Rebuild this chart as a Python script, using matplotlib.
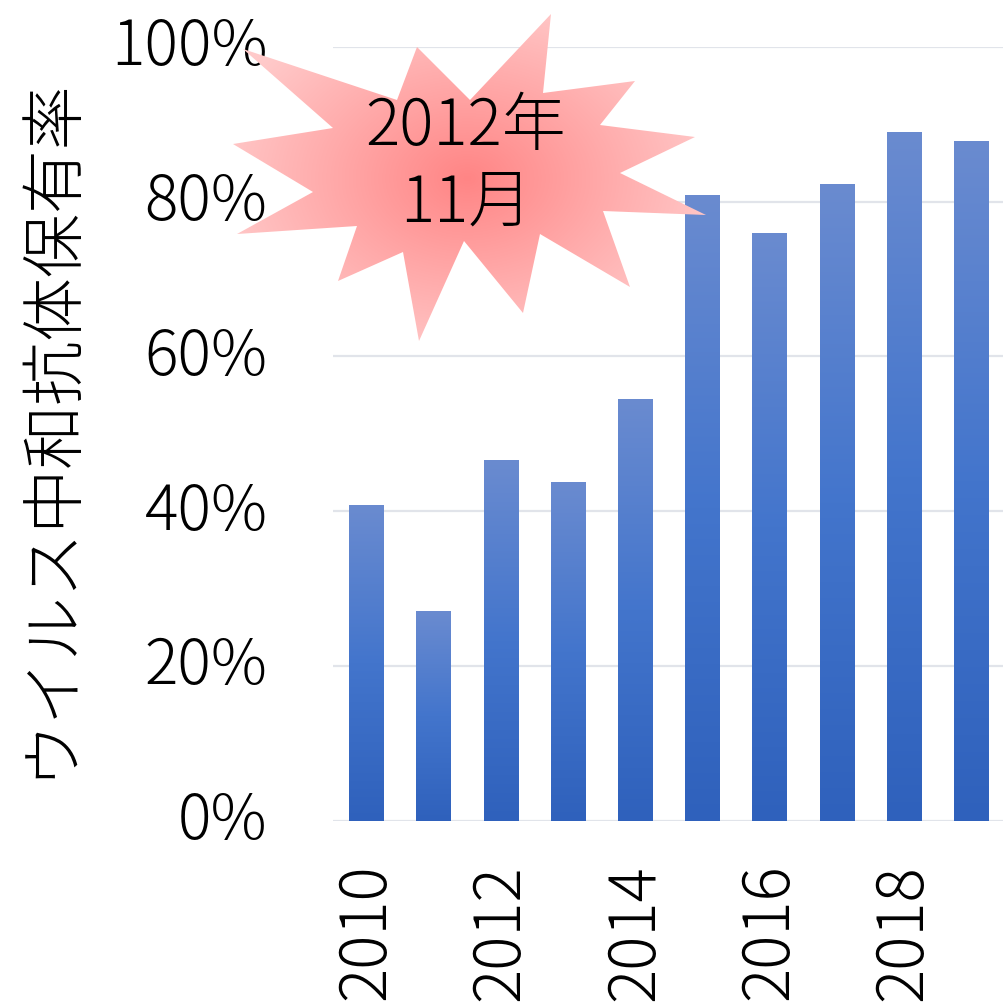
import matplotlib
matplotlib.use("Agg")
import matplotlib.pyplot as plt
import matplotlib.transforms as mtransforms
import numpy as np
from matplotlib.colors import LinearSegmentedColormap
from matplotlib.patches import Polygon

plt.rcParams["font.family"] = ["Noto Sans CJK JP", "DejaVu Sans"]
plt.rcParams["font.weight"] = "light"

years = [2010, 2011, 2012, 2013, 2014, 2015, 2016, 2017, 2018, 2019]
rates = [0.407, 0.271, 0.466, 0.437, 0.544, 0.808, 0.759, 0.822, 0.889, 0.878]
tick_years = [2010, 2012, 2014, 2016, 2018]
y_ticks = [0, 0.2, 0.4, 0.6, 0.8, 1.0]
y_label = "ウイルス中和抗体保有率"
burst_text = "2012年\n11月"

# explosion shape, in figure pixels (x right, y down)
burst_px = [
    (551, 14), (543, 93), (635, 81), (600, 125), (695, 137), (620, 173),
    (706, 215), (603, 211), (630, 287), (540, 234), (523, 313), (464, 241),
    (419, 341), (403, 252), (338, 281), (357, 226), (237, 234), (313, 192),
    (233, 144), (333, 128), (243, 49), (397, 100), (417, 47), (470, 100),
]

W, H = 1004, 1007
fig = plt.figure(figsize=(W / 100, H / 100), dpi=100)
ax = fig.add_axes([333 / W, (H - 820.7) / H, 672 / W, 774 / H])

bar_cmap = LinearSegmentedColormap.from_list("bar", ["#6a8bd0", "#4375cc", "#2f61bc"])
grad = np.linspace(0, 1, 256).reshape(-1, 1)
width = 0.52
xs = np.arange(len(years))
for x, v in zip(xs, rates):
    ax.imshow(grad, cmap=bar_cmap, aspect="auto", origin="upper",
              extent=[x - width / 2, x + width / 2, 0, v], zorder=2,
              interpolation="bicubic")

ax.set_xlim(-0.5, len(years) - 0.5)
ax.set_ylim(0, 1.0)
ax.set_yticks(y_ticks)
ax.set_yticklabels([f"{int(round(t * 100))}%" for t in y_ticks], fontsize=45)
ax.set_xticks([years.index(y) for y in tick_years])
ax.set_xticklabels([str(y) for y in tick_years], rotation=90, fontsize=46)
ax.tick_params(axis="both", length=0)
ax.tick_params(axis="y", pad=47)
ax.tick_params(axis="x", pad=31)
# tick labels sit a little above their gridlines
shift = mtransforms.ScaledTranslation(0, 6 / 100, fig.dpi_scale_trans)
for lbl in ax.get_yticklabels():
    lbl.set_transform(lbl.get_transform() + shift)
ax.grid(axis="y", color="#e1e4ea", linewidth=1.6, zorder=0)
ax.set_axisbelow(True)
for s in ax.spines.values():
    s.set_visible(False)
fig.text(50 / W, 1 - 427 / H, y_label, rotation=90, ha="center", va="center",
         fontsize=46)

# overlay for the explosion callout
ov = fig.add_axes([0, 0, 1, 1], zorder=5)
ov.set_xlim(0, W)
ov.set_ylim(H, 0)
ov.axis("off")
ov.patch.set_alpha(0)
poly = Polygon(burst_px, closed=True, facecolor="none", edgecolor="none")
ov.add_patch(poly)
cx, cy = 467, 178
gx, gy = np.meshgrid(np.arange(220, 720), np.arange(0, 350))
r = np.sqrt(((gx - cx) / 260.0) ** 2 + ((gy - cy) / 190.0) ** 2)
r = np.clip(r, 0, 1)
burst_cmap = LinearSegmentedColormap.from_list("burst", ["#ff8585", "#ffa8a8", "#ffcaca"])
im = ov.imshow(r, cmap=burst_cmap, vmin=0, vmax=1, extent=[220, 720, 350, 0],
               aspect="auto", interpolation="bilinear")
im.set_clip_path(poly)
ov.text(466, 166, burst_text, ha="center", va="center", fontsize=46,
        linespacing=1.2)

fig.savefig("out.png", dpi=100)
